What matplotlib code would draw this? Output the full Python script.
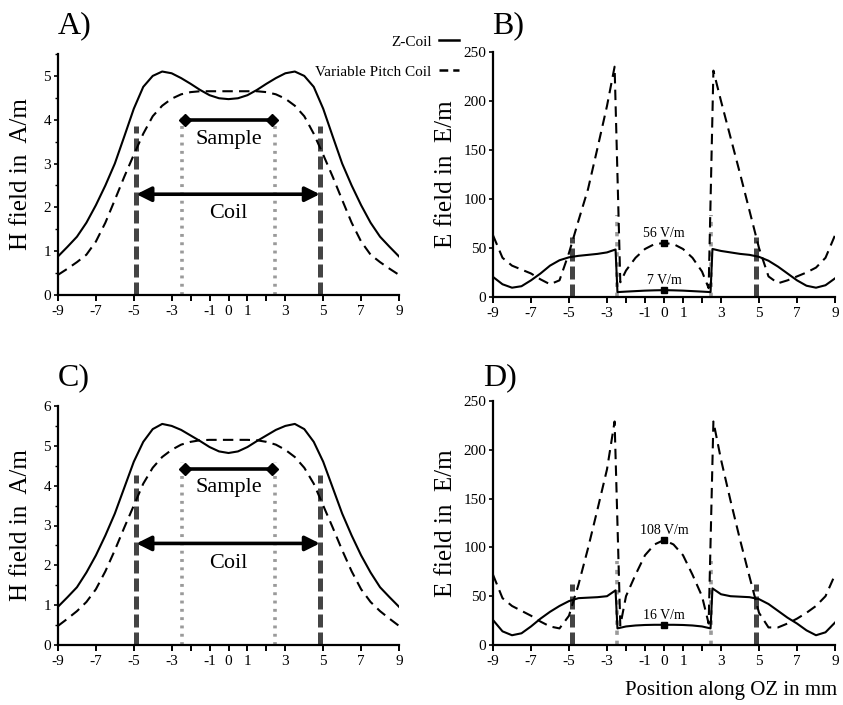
import matplotlib
matplotlib.use("Agg")
import matplotlib.pyplot as plt
from matplotlib.lines import Line2D
from matplotlib.ticker import MultipleLocator

plt.rcParams['font.family'] = ['Liberation Serif', 'DejaVu Serif']

# ---------------- data ----------------
xh = [-9, -8.5, -8, -7.5, -7, -6.5, -6, -5.5, -5, -4.5, -4, -3.5, -3, -2.5, -2, -1.5, -1, -0.5, 0,
      0.5, 1, 1.5, 2, 2.5, 3, 3.5, 4, 4.5, 5, 5.5, 6, 6.5, 7, 7.5, 8, 8.5, 9]

hA_z = [0.88, 1.1, 1.33, 1.65, 2.05, 2.5, 3.0, 3.62, 4.25, 4.75, 5.0, 5.1, 5.06, 4.95, 4.82, 4.68, 4.56, 4.49, 4.47,
        4.49, 4.56, 4.68, 4.82, 4.95, 5.06, 5.1, 5.0, 4.75, 4.25, 3.62, 3.0, 2.5, 2.05, 1.65, 1.33, 1.1, 0.88]
hA_v = [0.46, 0.6, 0.75, 0.92, 1.22, 1.65, 2.17, 2.7, 3.2, 3.68, 4.08, 4.32, 4.48, 4.58, 4.63, 4.65, 4.65, 4.65, 4.65,
        4.65, 4.65, 4.65, 4.63, 4.58, 4.48, 4.32, 4.08, 3.68, 3.2, 2.7, 2.17, 1.65, 1.22, 0.92, 0.75, 0.6, 0.46]

hC_z = [0.96, 1.2, 1.45, 1.82, 2.25, 2.75, 3.3, 3.95, 4.6, 5.1, 5.42, 5.55, 5.5, 5.4, 5.26, 5.12, 4.97, 4.86, 4.82,
        4.86, 4.97, 5.12, 5.26, 5.4, 5.5, 5.55, 5.42, 5.1, 4.6, 3.95, 3.3, 2.75, 2.25, 1.82, 1.45, 1.2, 0.96]
hC_v = [0.48, 0.66, 0.85, 1.08, 1.4, 1.85, 2.38, 2.95, 3.5, 4.05, 4.45, 4.72, 4.9, 5.03, 5.1, 5.14, 5.15, 5.15, 5.15,
        5.15, 5.15, 5.14, 5.1, 5.03, 4.9, 4.72, 4.45, 4.05, 3.5, 2.95, 2.38, 1.85, 1.4, 1.08, 0.85, 0.66, 0.48]

xe_z = [-9, -8.5, -8, -7.5, -7, -6.5, -6, -5.5, -5, -4.5, -4, -3.5, -3, -2.55, -2.45, -2, -1.5, -1, -0.5, 0,
        0.5, 1, 1.5, 2, 2.45, 2.55, 3, 3.5, 4, 4.5, 5, 5.5, 6, 6.5, 7, 7.5, 8, 8.5, 9]
eB_z = [20.5, 13, 9.5, 11, 17, 24, 32, 37.5, 40.5, 42, 43, 44, 45.5, 48.5, 5, 5.5, 6, 6.5, 6.8, 7,
        6.8, 6.5, 6, 5.5, 5, 49, 47, 45.5, 44, 43, 41, 37, 31, 24, 17, 11.5, 9.5, 12, 19]
eD_z = [25.6, 14, 10, 12, 19, 27, 34, 40, 45, 48, 48.5, 49, 50, 56, 17, 19, 20, 20.5, 20.7, 20.7,
        20.7, 20.5, 20, 19, 17, 58, 52, 50, 49.5, 49, 47, 42, 35, 28, 22, 15, 10, 13, 23]

xe_v = [-9, -8.5, -8, -7.5, -7, -6.5, -6, -5.5, -5, -4.5, -4, -3.5, -3, -2.6, -2.3, -2, -1.5, -1, -0.5, 0,
        0.5, 1, 1.5, 2, 2.35, 2.6, 3, 3.5, 4, 4.5, 5, 5.5, 6, 6.5, 7, 7.5, 8, 8.5, 9]
eB_v = [63, 40, 32, 28, 24, 18, 13, 17, 45, 78, 110, 152, 195, 235, 15, 27, 40, 49, 54, 55,
        54, 49, 40, 26, 9, 231, 200, 163, 126, 88, 50, 21, 14, 17, 21, 25, 30, 40, 63]
eD_v = [72, 48, 40, 35, 30, 24, 19, 17, 30, 62, 99, 139, 180, 229, 20, 50, 72, 92, 103, 107.6,
        103, 92, 72, 50, 22, 229, 190, 148, 108, 70, 33, 18, 18, 22, 27, 33, 40, 50, 72]

coil_x = [-4.86, 4.82]
sample_x = [-2.48, 2.45]
xticks = [-9, -7, -5, -3, -2, -1, 0, 1, 2, 3, 5, 7, 9]
xticklabels = ['-9', '-7', '-5', '-3', '', '-1', '0', '1', '', '3', '5', '7', '9']

center_B = [56, 7]
center_D = [108, 16]
center_B_y = [55, 7]
center_D_y = [107.6, 20.7]

# ---------------- figure ----------------
W, H = 843, 705
fig = plt.figure(figsize=(W / 100, H / 100), dpi=100)

def px_axes(l, r, b, t):
    return fig.add_axes([l / W, 1 - b / H, (r - l) / W, (b - t) / H])

axA = px_axes(58, 399, 295, 54)
axB = px_axes(493, 835, 297, 52)
axC = px_axes(58, 399, 645, 406)
axD = px_axes(493, 835, 645, 401)

DASH = (0, (5, 3))
COILC = '#444444'
SAMPC = '#9a9a9a'

def style(ax, ylim, yticks, ylabel, lx, minor=None):
    ax.set_xlim(-9, 9)
    ax.set_ylim(*ylim)
    ax.set_xticks(xticks)
    ax.set_xticklabels(xticklabels)
    ax.set_yticks(yticks)
    if minor:
        ax.yaxis.set_minor_locator(MultipleLocator(minor))
    for s in ['top', 'right']:
        ax.spines[s].set_visible(False)
    for s in ['left', 'bottom']:
        ax.spines[s].set_linewidth(1.6)
    ax.tick_params(axis='x', direction='out', length=4, width=1.4, labelsize=11, pad=3)
    ax.tick_params(axis='y', which='major', direction='out', length=3, width=1.2, labelsize=11, pad=2)
    ax.tick_params(axis='y', which='minor', direction='out', length=2.5, width=1.0)
    ax.set_ylabel(ylabel, fontsize=18)
    ax.yaxis.set_label_coords(lx, 0.5)
    ax.patch.set_alpha(0)

def h_panel(ax, yz, yv, coil_top, samp_top, samp_y, coil_y, samp_txt_y, coil_txt_y):
    for xv in coil_x:
        ax.plot([xv, xv], [0, coil_top], color=COILC, lw=3.6, ls=(0, (2.6, 1.0)),
                solid_capstyle='butt', dash_capstyle='butt', zorder=1)
    for xv in sample_x:
        ax.plot([xv, xv], [0, samp_top], color=SAMPC, lw=2.6, ls=(0, (0.8, 1.5)),
                dash_capstyle='butt', zorder=1)
    ax.plot(xh, yz, color='black', lw=1.5, zorder=3)
    ax.plot(xh, yv, color='black', lw=1.5, ls=DASH, zorder=3)
    ax.plot([-2.3, 2.3], [samp_y, samp_y], color='black', lw=2.6, marker='D', ms=6, zorder=4)
    ax.annotate('', xy=(coil_x[1], coil_y), xytext=(coil_x[0], coil_y),
                arrowprops=dict(arrowstyle='<|-|>', lw=2.6, color='black', mutation_scale=22,
                                shrinkA=0, shrinkB=0), zorder=4)
    ax.text(0, samp_txt_y, 'Sample', ha='center', va='center', fontsize=16)
    ax.text(0, coil_txt_y, 'Coil', ha='center', va='center', fontsize=16)

def e_panel(ax, yz, yv, coil_top, samp_top, labels, ly):
    for xv in coil_x:
        ax.plot([xv, xv], [0, coil_top], color=COILC, lw=3.6, ls=(0, (2.6, 1.0)),
                dash_capstyle='butt', zorder=1)
    for xv in sample_x:
        ax.plot([xv, xv], [0, samp_top], color=SAMPC, lw=2.6, ls=(0, (1.2, 1.6)),
                dash_capstyle='butt', zorder=1)
    ax.plot(xe_z, yz, color='black', lw=1.5, zorder=3)
    ax.plot(xe_v, yv, color='black', lw=1.5, ls=DASH, zorder=3)
    for lab, yy in zip(labels, ly):
        ax.plot([0], [yy], marker='s', ms=4.5, color='black', zorder=4)
        ax.text(0, yy + 3, f'{lab} V/m', ha='center', va='bottom', fontsize=10)

h_panel(axA, hA_z, hA_v, 3.85, 4.12, 4.0, 2.3, 3.55, 1.85)
style(axA, (0, 5.5), [0, 1, 2, 3, 4, 5], 'H field in  A/m', -0.076, minor=0.5)

h_panel(axC, hC_z, hC_v, 4.28, 4.6, 4.43, 2.55, 3.95, 2.05)
style(axC, (0, 6), [0, 1, 2, 3, 4, 5, 6], 'H field in  A/m', -0.076, minor=0.5)

e_panel(axB, eB_z, eB_v, 61, 84, center_B, center_B_y)
style(axB, (0, 250), [0, 50, 100, 150, 200, 250], 'E field in  E/m', -0.105)

e_panel(axD, eD_z, eD_v, 63, 86, center_D, center_D_y)
style(axD, (0, 250), [0, 50, 100, 150, 200, 250], 'E field in  E/m', -0.105)

# panel letters
for txt, xp, yp in [('A)', 58, 33), ('B)', 492, 33), ('C)', 58, 385), ('D)', 483, 385)]:
    fig.text(xp / W, 1 - yp / H, txt, fontsize=23, ha='left', va='baseline')

# legend
h1 = Line2D([], [], color='black', lw=1.8)
h2 = Line2D([], [], color='black', lw=1.8, ls=(0, (3.5, 2)))
fig.legend([h1], ['Z-Coil'], loc='center right', bbox_to_anchor=(459 / W, 1 - 42 / H),
           markerfirst=False, frameon=False, fontsize=11, handlelength=1.3,
           handletextpad=0.5, borderpad=0, borderaxespad=0)
fig.legend([h2], ['Variable Pitch Coil'], loc='center right', bbox_to_anchor=(459 / W, 1 - 72 / H),
           markerfirst=False, frameon=False, fontsize=11, handlelength=1.3,
           handletextpad=0.5, borderpad=0, borderaxespad=0)

fig.text(837 / W, 1 - 690 / H, 'Position along OZ in mm', fontsize=15, ha='right', va='center')

fig.savefig('out.png', dpi=100)
